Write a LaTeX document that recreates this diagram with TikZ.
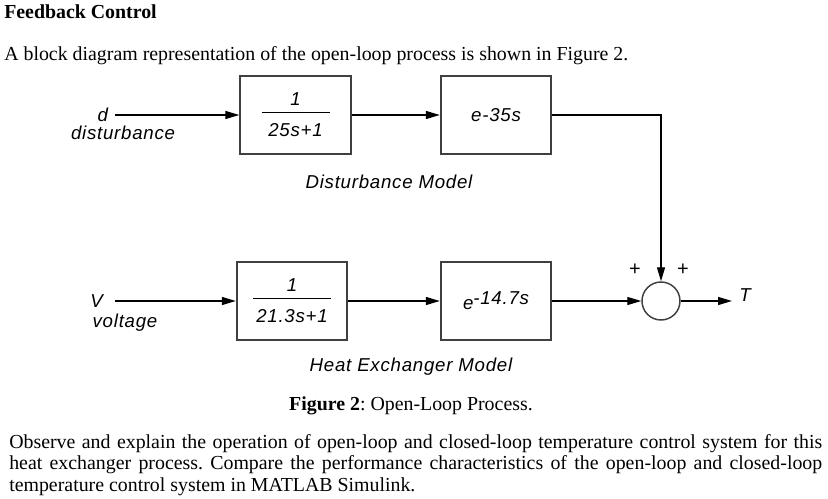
\documentclass[tikz,border=0pt]{standalone}
\usepackage{fontspec}
\setmainfont{Liberation Serif}
\newfontfamily\diagfont[LetterSpace=4]{Liberation Sans}
\usetikzlibrary{positioning,arrows.meta}

\begin{document}
\frenchspacing
\begin{tikzpicture}[
      x=0.75pt, y=-0.75pt,
      txt/.style={inner sep=0pt, font=\fontsize{14.9pt}{16.1pt}\selectfont},
      lbl/.style={inner sep=0pt, font=\diagfont\itshape\fontsize{14pt}{12pt}\selectfont},
      block/.style={draw=black!75, line width=1.3pt, minimum width=83pt, minimum height=59pt, align=center, inner sep=0pt, font=\diagfont\itshape\fontsize{14pt}{12pt}\selectfont},
      sumnode/.style={draw=black!75, line width=1.1pt, circle, minimum size=28.5pt, inner sep=0pt},
      sign/.style={inner sep=0pt, font=\diagfont\fontsize{15pt}{15pt}\selectfont},
      arr/.style={-{Triangle[length=10.5pt, width=6pt]}, line width=1pt}
  ]
    \fill[white] (0,0) rectangle (828,499);
    \useasboundingbox (0,0) rectangle (828,499);

    \node[txt, anchor=base west] (title) at (4,19) {\textbf{Feedback Control}};
    \node[txt, anchor=base west] (intro) at (4,61) {A block diagram representation of the open-loop process is shown in Figure 2.};

    \node[lbl, anchor=east, inner xsep=5pt] (din) at (115,115) {d};
    \node[lbl] (dlbl) at (123,133) {disturbance};
    \node[block] (b1) at (295.5,115) {1\\[-6.4pt]\rule{51pt}{0.9pt}\\[5.6pt]25s+1};
    \node[block] (b2) at (496,115) {e-35s};
    \node[lbl] (dmodel) at (389,182) {Disturbance Model};

    \node[lbl, anchor=east, inner xsep=9pt] (vin) at (115,301) {V};
    \node[lbl] (vlbl) at (125,323) {voltage};
    \node[block] (b3) at (292,301) {1\\[-6.4pt]\rule{58pt}{0.9pt}\\[5.6pt]21.3s+1};
    \node[block] (b4) at (496,301) {e\raisebox{3.5pt}{-14.7s}};
    \node[lbl] (hmodel) at (411,367) {Heat Exchanger Model};

    \node[sumnode] (sum) at (661,301) {};
    \node[sign] (plusa) at (635,270) {+};
    \node[sign] (plusb) at (683,270) {+};
    \coordinate (tout) at (732,301);
    \node[lbl, anchor=west] (tlbl) at (739,295) {T};

    \draw[arr] (din) -- (b1);
    \draw[arr] (b1) -- (b2);
    \draw[arr] (b2.east) -| (sum.north);
    \draw[arr] (vin) -- (b3);
    \draw[arr] (b3) -- (b4);
    \draw[arr] (b4) -- (sum);
    \draw[arr] (sum) -- (tout);

    \node[txt, anchor=base] (caption) at (411,410) {\textbf{Figure 2}: Open-Loop Process.};
    \node[txt, anchor=north west, align=left] (para) at (9,434) {\makebox[609.75pt][s]{Observe and explain the operation of open-loop and closed-loop temperature control system for this}\\
      \makebox[609.75pt][s]{heat exchanger process. Compare the performance characteristics of the open-loop and closed-loop}\\
      temperature control system in MATLAB Simulink.};
\end{tikzpicture}
\end{document}
